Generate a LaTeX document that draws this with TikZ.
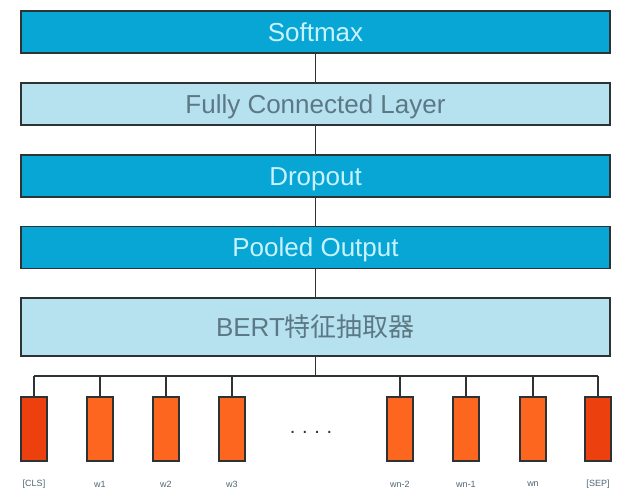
\documentclass[tikz,border=0pt]{standalone}
\usepackage{fontspec}
\setmainfont{Liberation Sans}
\newfontfamily\cjk{Noto Sans CJK SC}
\definecolor{darkblue}{RGB}{8,166,212}
\definecolor{lightblue}{RGB}{182,226,240}
\definecolor{textdark}{RGB}{200,242,255}
\definecolor{textlight}{RGB}{92,120,132}
\definecolor{tokorange}{RGB}{252,102,30}
\definecolor{tokred}{RGB}{236,64,14}
\definecolor{edge}{RGB}{45,50,52}
\begin{document}
\begin{tikzpicture}[x=1pt,y=-1pt,
  layer/.style={draw=edge,line width=1.3pt,minimum width=589pt,inner sep=0pt,
    font=\fontsize{26}{30}\selectfont,text height=18.6pt,text depth=0pt},
  darklayer/.style={layer,fill=darkblue,text=textdark,minimum height=42pt},
  lightlayer/.style={layer,fill=lightblue,text=textlight,minimum height=42pt},
  token/.style={draw=edge,line width=1.1pt,fill=tokorange,minimum width=26pt,minimum height=64pt,inner sep=0pt},
  endtoken/.style={token,fill=tokred},
  toklabel/.style={font=\fontsize{9}{10}\selectfont,text=textlight!85!black},
  wire/.style={draw=edge,line width=1.4pt}]
\useasboundingbox (0,0) rectangle (633,501);
\node[darklayer] (softmax) at (315.5,32) {Softmax};
\node[lightlayer] (fc) at (315.5,104) {Fully Connected Layer};
\node[darklayer] (dropout) at (315.5,176) {Dropout};
\node[darklayer] (pooled) at (315.5,247.5) {Pooled Output};
\node[lightlayer,minimum height=58pt] (bert) at (315.5,327) {BERT{\cjk 特征抽取器}};
\coordinate (bus) at (315.5,376);
\node[endtoken] (t1) at (34,429) {};
\node[token] (t2) at (100,429) {};
\node[token] (t3) at (166,429) {};
\node[token] (t4) at (232,429) {};
\node[token] (t5) at (400,429) {};
\node[token] (t6) at (466,429) {};
\node[token] (t7) at (533,429) {};
\node[endtoken] (t8) at (598,429) {};
\node[font=\fontsize{20}{20}\selectfont,text=edge,text height=4pt,text depth=0pt,inner sep=0pt] (dots) at (311,431) {.\,\,.\,\,.\,\,.};
\node[toklabel] (l1) at (34,484) {[CLS]};
\node[toklabel] (l2) at (100,484) {w1};
\node[toklabel] (l3) at (166,484) {w2};
\node[toklabel] (l4) at (232,484) {w3};
\node[toklabel] (l5) at (400,484) {wn-2};
\node[toklabel] (l6) at (466,484) {wn-1};
\node[toklabel] (l7) at (533,484) {wn};
\node[toklabel] (l8) at (598,484) {[SEP]};
\draw[wire] (softmax) -- (fc);
\draw[wire] (fc) -- (dropout);
\draw[wire] (dropout) -- (pooled);
\draw[wire] (pooled) -- (bert);
\draw[wire] (bert) -- (bus);
\draw[wire] (t1.north |- bus) -- (t8.north |- bus);
\foreach \t in {t1,t2,t3,t4,t5,t6,t7,t8}
  \draw[wire] (\t.north |- bus) -- (\t.north);
\end{tikzpicture}
\end{document}
